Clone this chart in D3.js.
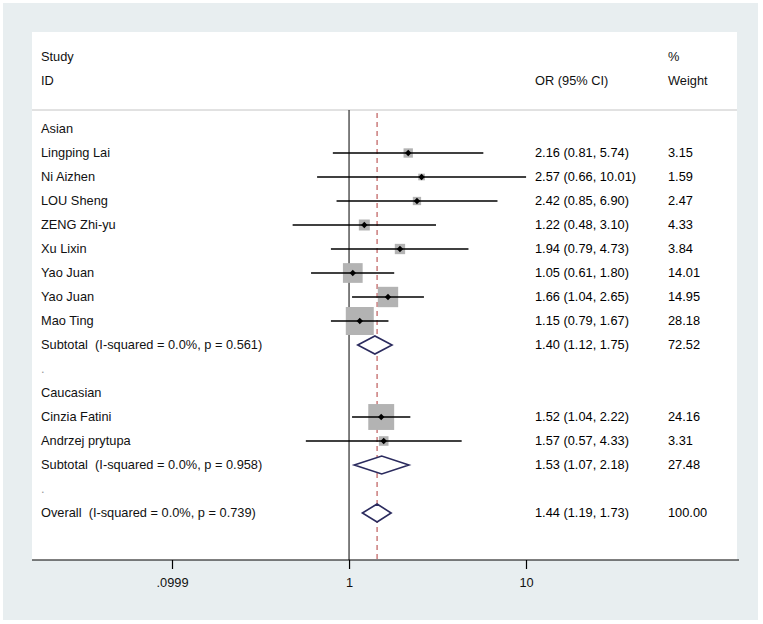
<!DOCTYPE html>
<html>
<head>
<meta charset="utf-8">
<script src="https://cdn.jsdelivr.net/npm/d3@7"></script>
<style>
  html, body { margin: 0; padding: 0; background: #ffffff; }
  svg { display: block; }
  text { font-family: "Liberation Sans", Arial, sans-serif; font-size: 12.8px; fill: #111; white-space: pre; }
</style>
</head>
<body>
<svg id="chart" width="763" height="624"></svg>
<script>
// ---------------- data ----------------
const rowLabels = [
  "Asian", "Lingping Lai", "Ni Aizhen", "LOU Sheng", "ZENG Zhi-yu", "Xu Lixin",
  "Yao Juan", "Yao Juan", "Mao Ting",
  "Subtotal  (I-squared = 0.0%, p = 0.561)", ".",
  "Caucasian", "Cinzia Fatini", "Andrzej prytupa",
  "Subtotal  (I-squared = 0.0%, p = 0.958)", ".",
  "Overall  (I-squared = 0.0%, p = 0.739)"
];
const rowType = [
  "head", "study", "study", "study", "study", "study", "study", "study", "study",
  "pooled", "blank", "head", "study", "study", "pooled", "blank", "pooled"
];
const orValues = [null, 2.16, 2.57, 2.42, 1.22, 1.94, 1.05, 1.66, 1.15, 1.40, null, null, 1.52, 1.57, 1.53, null, 1.44];
const ciLower  = [null, 0.81, 0.66, 0.85, 0.48, 0.79, 0.61, 1.04, 0.79, 1.12, null, null, 1.04, 0.57, 1.07, null, 1.19];
const ciUpper  = [null, 5.74, 10.01, 6.90, 3.10, 4.73, 1.80, 2.65, 1.67, 1.75, null, null, 2.22, 4.33, 2.18, null, 1.73];
const weights  = [null, 3.15, 1.59, 2.47, 4.33, 3.84, 14.01, 14.95, 28.18, 72.52, null, null, 24.16, 3.31, 27.48, null, 100.00];
const tickValues = [0.0999, 1, 10];
const tickLabels = [".0999", "1", "10"];
const overallOR = 1.44;
const nullValue = 1;

// ---------------- layout ----------------
const svg = d3.select("#chart");
const panel = { left: 32, right: 737, top: 32, bottom: 560 };

svg.append("rect").attr("x", 3).attr("y", 3).attr("width", 755).attr("height", 617)
  .attr("fill", "#e8eef0");
svg.append("rect").attr("x", panel.left).attr("y", panel.top)
  .attr("width", panel.right - panel.left).attr("height", panel.bottom - panel.top)
  .attr("fill", "#ffffff");

const x = d3.scaleLog().domain([0.0999, 10]).range([172, 526]);
const y = d3.scaleLinear().domain([0, rowLabels.length - 1]).range([129, 513]);

// header
const labelX = 41, orX = 535, wX = 668;
svg.append("text").attr("x", labelX).attr("y", 57).attr("dy", "0.35em").text("Study");
svg.append("text").attr("x", labelX).attr("y", 81).attr("dy", "0.35em").text("ID");
svg.append("text").attr("x", orX).attr("y", 81).attr("dy", "0.35em").text("OR (95% CI)");
svg.append("text").attr("x", wX).attr("y", 57).attr("dy", "0.35em").text("%");
svg.append("text").attr("x", wX).attr("y", 81).attr("dy", "0.35em").text("Weight");
svg.append("line").attr("x1", panel.left).attr("x2", panel.right)
  .attr("y1", 110).attr("y2", 110).attr("stroke", "#c4c4c4").attr("stroke-width", 1);

// reference lines
svg.append("line").attr("x1", x(nullValue)).attr("x2", x(nullValue))
  .attr("y1", 110).attr("y2", panel.bottom).attr("stroke", "#000").attr("stroke-width", 1);
svg.append("line").attr("x1", x(overallOR)).attr("x2", x(overallOR))
  .attr("y1", 113).attr("y2", panel.bottom).attr("stroke", "#b03a3a")
  .attr("stroke-width", 1).attr("stroke-dasharray", "5,4");

// rows
const rows = rowLabels.map((label, i) => ({
  label, type: rowType[i], or: orValues[i], lo: ciLower[i], hi: ciUpper[i], w: weights[i], i
}));

const g = svg.append("g");
rows.forEach(r => {
  const cy = y(r.i);
  g.append("text").attr("x", labelX).attr("y", cy).attr("dy", "0.35em").text(r.label)
    .style("fill", r.type === "blank" ? "#999" : null);
  if (r.or == null) return;
  g.append("text").attr("x", orX).attr("y", cy).attr("dy", "0.35em")
    .style("fill", "#000")
    .text(`${r.or.toFixed(2)} (${r.lo.toFixed(2)}, ${r.hi.toFixed(2)})`);
  g.append("text").attr("x", wX).attr("y", cy).attr("dy", "0.35em")
    .style("fill", "#000")
    .text(r.w.toFixed(2));

  if (r.type === "study") {
    const side = 5.27 * Math.sqrt(r.w);
    g.append("rect").attr("x", x(r.or) - side / 2).attr("y", cy - side / 2)
      .attr("width", side).attr("height", side).attr("fill", "#b3b3b3");
    g.append("line").attr("x1", x(r.lo)).attr("x2", x(r.hi)).attr("y1", cy).attr("y2", cy)
      .attr("stroke", "#000").attr("stroke-width", 1.6);
    const d = 3.2;
    g.append("path")
      .attr("d", `M${x(r.or) - d},${cy}L${x(r.or)},${cy - d}L${x(r.or) + d},${cy}L${x(r.or)},${cy + d}Z`)
      .attr("fill", "#000");
  } else {
    const h = 9;
    g.append("path")
      .attr("d", `M${x(r.lo)},${cy}L${x(r.or)},${cy - h}L${x(r.hi)},${cy}L${x(r.or)},${cy + h}Z`)
      .attr("fill", "#ffffff").attr("stroke", "#2b2b5e").attr("stroke-width", 1.6);
  }
});

// axis
svg.append("line").attr("x1", panel.left).attr("x2", 739)
  .attr("y1", panel.bottom).attr("y2", panel.bottom).attr("stroke", "#000").attr("stroke-width", 1.2);
const axis = d3.axisBottom(x).tickValues(tickValues)
  .tickFormat((d, i) => tickLabels[i]).tickSize(9).tickPadding(9);
const ag = svg.append("g").attr("transform", `translate(0,${panel.bottom})`).call(axis);
ag.select(".domain").remove();
ag.selectAll(".tick line").attr("stroke", "#000").attr("stroke-width", 1.2);
ag.selectAll(".tick text").style("font-family", "'Liberation Sans', Arial, sans-serif")
  .style("font-size", "12.8px").attr("fill", "#111");
</script>
</body>
</html>
